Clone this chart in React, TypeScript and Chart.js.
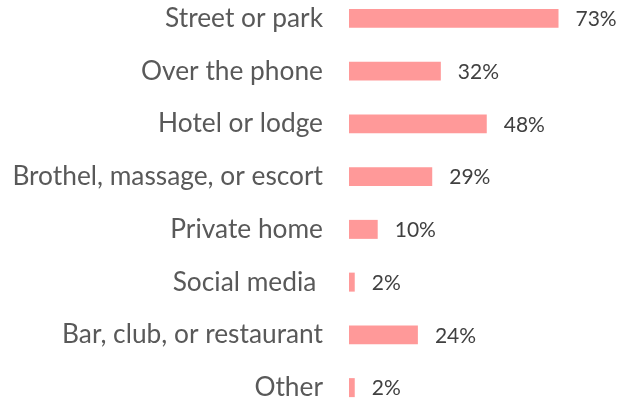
import React, { useEffect, useRef } from "react";
import { Chart, registerables } from "chart.js";

Chart.register(...registerables);

const categories = [
  "Street or park",
  "Over the phone",
  "Hotel or lodge",
  "Brothel, massage, or escort",
  "Private home",
  "Social media ",
  "Bar, club, or restaurant",
  "Other",
];
const values = [73, 32, 48, 29, 10, 2, 24, 2];

const valueLabelPlugin = {
  id: "valueLabels",
  afterDatasetsDraw(chart: any) {
    const ctx = chart.ctx;
    const meta = chart.getDatasetMeta(0);
    ctx.save();
    ctx.font = "21px Lato";
    ctx.fillStyle = "#404040";
    ctx.textAlign = "left";
    ctx.textBaseline = "middle";
    meta.data.forEach((bar: any, i: number) => {
      ctx.fillText(`${values[i]}%`, bar.x + 17, bar.y + 1);
    });
    ctx.restore();
  },
};

export default function App() {
  const ref = useRef<HTMLCanvasElement>(null);
  useEffect(() => {
    if (!ref.current) return;
    const chart = new Chart(ref.current, {
      type: "bar",
      data: {
        labels: categories,
        datasets: [
          {
            data: values,
            backgroundColor: "#FF9999",
            borderWidth: 0,
            barPercentage: 0.36,
            categoryPercentage: 1,
          },
        ],
      },
      options: {
        indexAxis: "y",
        animation: false,
        responsive: false,
        maintainAspectRatio: false,
        layout: { padding: 0, autoPadding: false },
        plugins: {
          legend: { display: false },
          tooltip: { enabled: false },
        },
        scales: {
          x: { display: false, min: 0, max: 100 },
          y: {
            grid: { display: false, drawTicks: false },
            border: { display: false },
            ticks: {
              padding: 26,
              color: "#595959",
              font: { family: "Lato", size: 26.3 },
            },
            afterFit(scale: any) {
              scale.width = 349;
              scale.paddingTop = 0;
              scale.paddingBottom = 0;
            },
          },
        },
      },
      plugins: [valueLabelPlugin],
    });
    return () => chart.destroy();
  }, []);
  return (
    <div style={{ position: "fixed", left: 0, top: -8, width: 636, height: 422, background: "#fff" }}>
      <canvas ref={ref} width={636} height={422} style={{ width: 636, height: 422 }} />
    </div>
  );
}
